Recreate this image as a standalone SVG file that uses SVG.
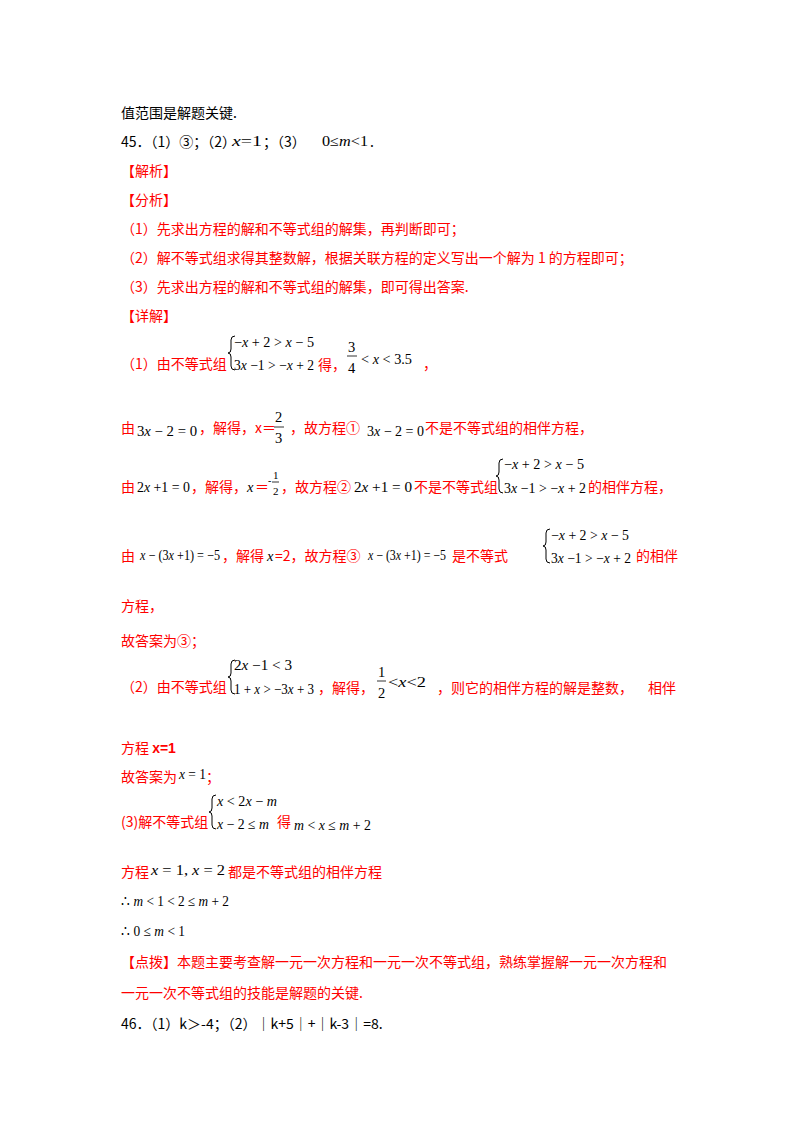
<svg xmlns="http://www.w3.org/2000/svg" width="800" height="1132" viewBox="0 0 800 1132">
<style>
text{font-family:"Noto Sans CJK SC","Liberation Serif",sans-serif;font-size:14px}
.r{fill:#ff0000}
.k{fill:#000}
.m{font-style:italic}
.n{fill:#000;font-family:"Liberation Serif",serif;font-size:14.5px}
.b{fill:none;stroke:#000;stroke-width:1}
.f{stroke:#000;stroke-width:0.8}
</style>
<rect width="800" height="1132" fill="#fff"/>
<text x="121" y="118" class="k">值范围是解题关键.</text>
<text x="121" y="147" class="k">45．（1）③；（2）</text>
<text x="232" y="146" class="n" textLength="30" lengthAdjust="spacingAndGlyphs"><tspan class="m">x</tspan>=1</text>
<text x="263" y="147" class="k">；（3）</text>
<text x="322" y="146" class="n" textLength="46" lengthAdjust="spacingAndGlyphs">0≤<tspan class="m">m</tspan>&lt;1</text>
<text x="370" y="147" class="k">.</text>
<text x="121" y="176" class="r">【解析】</text>
<text x="121" y="205" class="r">【分析】</text>
<text x="121" y="234" class="r">（1）先求出方程的解和不等式组的解集，再判断即可；</text>
<text x="121" y="263" class="r">（2）解不等式组求得其整数解，根据关联方程的定义写出一个解为 1 的方程即可；</text>
<text x="121" y="292" class="r">（3）先求出方程的解和不等式组的解集，即可得出答案.</text>
<text x="121" y="321" class="r">【详解】</text>
<g id="row1">
<text x="121" y="369" class="r">（1）由不等式组</text>
<path class="b" d="M235,336 q-4,0 -4,4 v9 q0,4 -3,4 q3,0 3,4 v9 q0,4 4,4"/>
<text x="234" y="347" class="n" textLength="80" lengthAdjust="spacingAndGlyphs">−<tspan class="m">x</tspan> + 2 &gt; <tspan class="m">x</tspan> − 5</text>
<text x="234" y="370" class="n" textLength="80" lengthAdjust="spacingAndGlyphs">3<tspan class="m">x</tspan> −1 &gt; −<tspan class="m">x</tspan> + 2</text>
<text x="318" y="370" class="r">得，</text>
<text x="348" y="352" class="n">3</text><line x1="347" y1="356" x2="357" y2="356" class="f"/><text x="348" y="373" class="n">4</text>
<text x="361" y="364" class="n" textLength="51" lengthAdjust="spacingAndGlyphs">&lt; <tspan class="m">x</tspan> &lt; 3.5</text>
<text x="423" y="369" class="r">，</text>
</g>
<g id="row2">
<text x="121" y="433" class="r">由</text>
<text x="137" y="436" class="n" textLength="60" lengthAdjust="spacingAndGlyphs">3<tspan class="m">x</tspan> − 2 = 0</text>
<text x="199" y="433" class="r">，解得，x＝</text>
<text x="275" y="422" class="n">2</text><line x1="274" y1="427" x2="284" y2="427" class="f"/><text x="275" y="443" class="n">3</text>
<text x="290" y="433" class="r">，故方程①</text>
<text x="367" y="436" class="n" textLength="57" lengthAdjust="spacingAndGlyphs">3<tspan class="m">x</tspan> − 2 = 0</text>
<text x="425" y="433" class="r">不是不等式组的相伴方程，</text>
</g>
<g id="row3">
<text x="121" y="492" class="r">由</text>
<text x="137" y="492" class="n" textLength="53" lengthAdjust="spacingAndGlyphs">2<tspan class="m">x</tspan> +1 = 0</text>
<text x="191" y="492" class="r">，解得，</text>
<text x="247" y="492" class="n m">x</text><text x="255" y="492" class="r">＝</text>
<text x="268" y="484" class="n" style="font-size:10px">-</text>
<text x="273" y="479" class="n" style="font-size:11px">1</text><line x1="272" y1="482" x2="279" y2="482" class="f"/><text x="273" y="495" class="n" style="font-size:11px">2</text>
<text x="281" y="492" class="r">，故方程②</text>
<text x="354" y="492" class="n" textLength="58" lengthAdjust="spacingAndGlyphs">2<tspan class="m">x</tspan> +1 = 0</text>
<text x="414" y="492" class="r">不是不等式组</text>
<path class="b" d="M503,459 q-4,0 -4,4 v9 q0,4 -3,4 q3,0 3,4 v9 q0,4 4,4"/>
<text x="504" y="469" class="n" textLength="80" lengthAdjust="spacingAndGlyphs">−<tspan class="m">x</tspan> + 2 &gt; <tspan class="m">x</tspan> − 5</text>
<text x="504" y="493" class="n" textLength="82" lengthAdjust="spacingAndGlyphs">3<tspan class="m">x</tspan> −1 &gt; −<tspan class="m">x</tspan> + 2</text>
<text x="588" y="492" class="r">的相伴方程，</text>
</g>
<g id="row4">
<text x="121" y="561" class="r">由</text>
<text x="140" y="560" class="n" textLength="80" lengthAdjust="spacingAndGlyphs"><tspan class="m">x</tspan> − (3<tspan class="m">x</tspan> +1) = −5</text>
<text x="222" y="561" class="r">，解得</text>
<text x="267" y="561" class="n m">x</text><text x="275" y="561" class="r">=2，故方程③</text>
<text x="368" y="560" class="n" textLength="78" lengthAdjust="spacingAndGlyphs"><tspan class="m">x</tspan> − (3<tspan class="m">x</tspan> +1) = −5</text>
<text x="452" y="561" class="r">是不等式</text>
<path class="b" d="M550,529 q-4,0 -4,4 v9 q0,4 -3,4 q3,0 3,4 v9 q0,4 4,4"/>
<text x="551" y="540" class="n" textLength="78" lengthAdjust="spacingAndGlyphs">−<tspan class="m">x</tspan> + 2 &gt; <tspan class="m">x</tspan> − 5</text>
<text x="551" y="563" class="n" textLength="80" lengthAdjust="spacingAndGlyphs">3<tspan class="m">x</tspan> −1 &gt; −<tspan class="m">x</tspan> + 2</text>
<text x="636" y="561" class="r">的相伴</text>
</g>
<text x="121" y="611" class="r">方程，</text>
<text x="121" y="646" class="r">故答案为③；</text>
<g id="row5">
<text x="121" y="692" class="r">（2）由不等式组</text>
<path class="b" d="M235,660 q-4,0 -4,4 v9 q0,4 -3,4 q3,0 3,4 v9 q0,4 4,4"/>
<text x="234" y="670" class="n" textLength="58" lengthAdjust="spacingAndGlyphs">2<tspan class="m">x</tspan> −1 &lt; 3</text>
<text x="234" y="694" class="n" textLength="80" lengthAdjust="spacingAndGlyphs">1 + <tspan class="m">x</tspan> &gt; −3<tspan class="m">x</tspan> + 3</text>
<text x="318" y="693" class="r">，解得，</text>
<text x="378" y="677" class="n">1</text><line x1="377" y1="681" x2="386" y2="681" class="f"/><text x="378" y="698" class="n">2</text>
<text x="388" y="687" class="n" textLength="38" lengthAdjust="spacingAndGlyphs">&lt;<tspan class="m">x</tspan>&lt;2</text>
<text x="437" y="693" class="r">，则它的相伴方程的解是整数，</text>
<text x="648" y="693" class="r">相伴</text>
</g>
<text x="121" y="753" class="r">方程 <tspan font-family="Liberation Sans,sans-serif" font-weight="bold">x=1</tspan></text>
<text x="121" y="782" class="r">故答案为</text>
<text x="179" y="779" class="n" textLength="27" lengthAdjust="spacingAndGlyphs"><tspan class="m">x</tspan> = 1</text><text x="206" y="782" class="r">；</text>
<g id="row6">
<text x="121" y="827" class="r">(3)解不等式组</text>
<path class="b" d="M216,795 q-4,0 -4,4 v9 q0,4 -3,4 q3,0 3,4 v9 q0,4 4,4"/>
<text x="217" y="806" class="n" textLength="60" lengthAdjust="spacingAndGlyphs"><tspan class="m">x</tspan> &lt; 2<tspan class="m">x</tspan> − <tspan class="m">m</tspan></text>
<text x="217" y="829" class="n" textLength="52" lengthAdjust="spacingAndGlyphs"><tspan class="m">x</tspan> − 2 ≤ <tspan class="m">m</tspan></text>
<text x="277" y="827" class="r">得</text>
<text x="294" y="830" class="n" textLength="77" lengthAdjust="spacingAndGlyphs"><tspan class="m">m</tspan> &lt; <tspan class="m">x</tspan> ≤ <tspan class="m">m</tspan> + 2</text>
</g>
<text x="121" y="877" class="r">方程</text>
<text x="151" y="875" class="n" textLength="74" lengthAdjust="spacingAndGlyphs"><tspan class="m">x</tspan> = 1,  <tspan class="m">x</tspan> =  2</text>
<text x="228" y="877" class="r">都是不等式组的相伴方程</text>
<text x="121" y="906" class="n" textLength="108" lengthAdjust="spacingAndGlyphs">∴ <tspan class="m">m</tspan> &lt; 1 &lt; 2 ≤ <tspan class="m">m</tspan> + 2</text>
<text x="121" y="936" class="n" textLength="64" lengthAdjust="spacingAndGlyphs">∴ 0 ≤ <tspan class="m">m</tspan> &lt; 1</text>
<text x="121" y="967" class="r">【点拨】本题主要考查解一元一次方程和一元一次不等式组，熟练掌握解一元一次方程和</text>
<text x="121" y="998" class="r">一元一次不等式组的技能是解题的关键.</text>
<text x="121" y="1029" class="k">46．（1）k＞-4；（2）｜k+5｜+｜k-3｜=8.</text>
</svg>
